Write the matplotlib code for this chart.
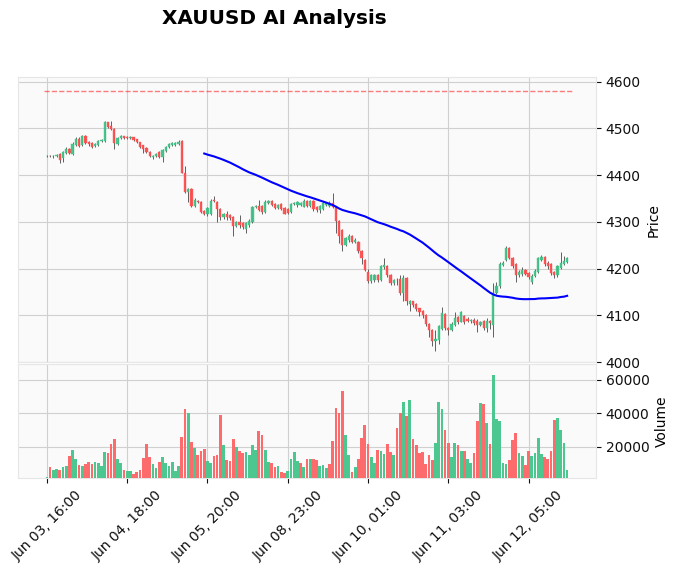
import pandas as pd
import matplotlib
matplotlib.use('Agg')
import matplotlib.pyplot as plt

title = 'XAUUSD AI Analysis'
target_price = 4580
mav_window = 50
tick_step = 25
tick_labels = ['Jun 03, 16:00', 'Jun 04, 18:00', 'Jun 05, 20:00', 'Jun 08, 23:00',
               'Jun 10, 01:00', 'Jun 11, 03:00', 'Jun 12, 05:00']

opens = [4441, 4442, 4440, 4440, 4446, 4437, 4448, 4457, 4446, 4464, 4478, 4464, 4483, 4470, 4468, 4462,
         4464, 4473, 4474, 4513, 4506, 4499, 4466, 4479, 4483, 4482, 4479, 4481, 4477, 4471, 4464, 4458,
         4450, 4439, 4441, 4449, 4439, 4452, 4461, 4464, 4464, 4467, 4473, 4405, 4365, 4370, 4334, 4345,
         4342, 4324, 4317, 4318, 4347, 4343, 4327, 4310, 4318, 4315, 4310, 4292, 4300, 4298, 4285, 4293,
         4299, 4331, 4334, 4334, 4322, 4341, 4344, 4339, 4330, 4338, 4329, 4327, 4322, 4338, 4337, 4337,
         4333, 4345, 4334, 4345, 4332, 4326, 4327, 4336, 4334, 4340, 4333, 4303, 4283, 4251, 4261, 4270,
         4257, 4257, 4237, 4219, 4193, 4173, 4175, 4186, 4175, 4204, 4206, 4186, 4169, 4176, 4178, 4148,
         4180, 4125, 4130, 4125, 4115, 4110, 4101, 4082, 4069, 4045, 4048, 4072, 4104, 4073, 4070, 4080,
         4097, 4087, 4098, 4093, 4088, 4091, 4089, 4080, 4088, 4073, 4089, 4080, 4148, 4162, 4208, 4219,
         4245, 4223, 4210, 4186, 4189, 4198, 4190, 4171, 4185, 4194, 4219, 4224, 4213, 4210, 4194, 4186,
         4202, 4210, 4215]
highs = [4444, 4443, 4444, 4446, 4447, 4451, 4460, 4459, 4471, 4481, 4481, 4486, 4485, 4473, 4470, 4468,
         4476, 4477, 4515, 4514, 4516, 4501, 4481, 4485, 4484, 4484, 4483, 4482, 4478, 4472, 4465, 4460,
         4452, 4443, 4448, 4451, 4456, 4463, 4468, 4470, 4472, 4476, 4475, 4420, 4372, 4372, 4352, 4348,
         4344, 4326, 4331, 4350, 4355, 4345, 4330, 4320, 4323, 4317, 4312, 4302, 4314, 4300, 4299, 4306,
         4334, 4337, 4348, 4336, 4348, 4348, 4347, 4341, 4338, 4341, 4331, 4329, 4340, 4343, 4345, 4343,
         4350, 4347, 4348, 4347, 4334, 4336, 4343, 4343, 4345, 4362, 4335, 4305, 4285, 4267, 4274, 4272,
         4265, 4259, 4239, 4221, 4199, 4188, 4188, 4189, 4208, 4222, 4208, 4188, 4178, 4180, 4186, 4187,
         4182, 4133, 4132, 4127, 4117, 4112, 4103, 4084, 4071, 4068, 4080, 4118, 4106, 4075, 4086, 4107,
         4099, 4110, 4100, 4096, 4093, 4094, 4092, 4088, 4090, 4094, 4091, 4170, 4171, 4214, 4216, 4248,
         4247, 4226, 4212, 4197, 4203, 4200, 4192, 4188, 4199, 4225, 4230, 4227, 4216, 4213, 4196, 4208,
         4235, 4228, 4226]
lows = [4439, 4438, 4437, 4438, 4426, 4428, 4445, 4446, 4444, 4462, 4461, 4462, 4467, 4463, 4459, 4460,
        4462, 4471, 4472, 4500, 4497, 4457, 4464, 4477, 4478, 4477, 4477, 4474, 4468, 4459, 4448, 4447,
        4438, 4435, 4439, 4436, 4429, 4450, 4459, 4462, 4462, 4465, 4404, 4362, 4343, 4331, 4332, 4340,
        4320, 4314, 4313, 4315, 4342, 4300, 4305, 4307, 4304, 4305, 4270, 4290, 4288, 4285, 4276, 4290,
        4297, 4329, 4323, 4318, 4320, 4339, 4335, 4328, 4328, 4325, 4316, 4317, 4320, 4336, 4331, 4335,
        4331, 4332, 4332, 4324, 4322, 4320, 4325, 4334, 4332, 4330, 4277, 4255, 4237, 4248, 4258, 4255,
        4254, 4234, 4211, 4195, 4170, 4170, 4172, 4172, 4173, 4200, 4183, 4166, 4166, 4166, 4144, 4130,
        4123, 4110, 4118, 4110, 4098, 4095, 4078, 4055, 4035, 4024, 4040, 4070, 4070, 4058, 4066, 4078,
        4082, 4085, 4082, 4086, 4084, 4080, 4065, 4077, 4070, 4064, 4071, 4055, 4145, 4158, 4205, 4216,
        4220, 4202, 4172, 4182, 4185, 4186, 4178, 4168, 4183, 4190, 4216, 4206, 4200, 4186, 4180, 4183,
        4199, 4207, 4213]
closes = [4442, 4441, 4442, 4444, 4433, 4449, 4457, 4448, 4466, 4478, 4463, 4484, 4469, 4466, 4461, 4466,
          4474, 4475, 4514, 4503, 4499, 4468, 4479, 4483, 4480, 4480, 4481, 4476, 4470, 4461, 4455, 4450,
          4441, 4441, 4446, 4439, 4454, 4461, 4466, 4468, 4469, 4471, 4405, 4365, 4370, 4334, 4347, 4342,
          4322, 4317, 4329, 4345, 4344, 4327, 4310, 4318, 4311, 4308, 4292, 4300, 4293, 4290, 4297, 4303,
          4332, 4334, 4326, 4322, 4343, 4344, 4337, 4330, 4336, 4327, 4318, 4320, 4338, 4341, 4342, 4341,
          4345, 4334, 4345, 4327, 4325, 4334, 4341, 4341, 4340, 4333, 4302, 4270, 4251, 4265, 4270, 4258,
          4262, 4237, 4223, 4198, 4173, 4186, 4186, 4175, 4206, 4207, 4186, 4169, 4176, 4175, 4148, 4180,
          4130, 4130, 4122, 4113, 4108, 4100, 4082, 4069, 4045, 4050, 4077, 4105, 4073, 4070, 4082, 4094,
          4087, 4108, 4085, 4088, 4091, 4083, 4080, 4085, 4073, 4089, 4083, 4148, 4163, 4211, 4213, 4245,
          4223, 4205, 4186, 4193, 4198, 4189, 4182, 4185, 4196, 4222, 4226, 4210, 4205, 4190, 4186, 4205,
          4212, 4217, 4222]
volumes = [2300, 7900, 6300, 6900, 6300, 8100, 8700, 14600, 18200, 12800, 9300, 8700, 9900, 11100, 9900, 11100,
           10700, 8700, 17000, 16400, 21800, 24600, 12800, 10300, 6300, 5800, 5700, 3900, 4900, 6300, 13300, 21500,
           13800, 9900, 7300, 11100, 13800, 10700, 8700, 11100, 5700, 8700, 25800, 42700, 40100, 22800, 19200, 15000,
           17400, 18600, 11700, 10300, 14600, 15000, 39100, 21200, 12250, 11850, 24800, 19800, 17600, 16200, 17000, 15200,
           21200, 18200, 29600, 27200, 18200, 11100, 10300, 8300, 8700, 5300, 4700, 5700, 12800, 17000, 11700, 10700,
           8300, 12800, 12800, 12800, 12250, 8700, 9100, 7700, 9900, 23600, 43500, 40100, 53400, 27200, 15000, 5300,
           7900, 12800, 25200, 33100, 21600, 14000, 10700, 18200, 17600, 15600, 22000, 16800, 15000, 31600, 40100, 46700,
           38500, 48100, 24800, 21200, 16600, 17000, 9900, 15000, 12000, 22400, 46700, 42700, 30200, 22600, 14000, 22600,
           21200, 17600, 17800, 12800, 10300, 16200, 35500, 46300, 45700, 34500, 21800, 63000, 36700, 35500, 10300, 9700,
           12000, 24200, 28400, 16200, 14600, 9300, 17600, 14600, 16200, 25200, 15800, 14000, 12800, 17600, 36100, 37100,
           30200, 22600, 6300]

df = pd.DataFrame({'Open': opens, 'High': highs, 'Low': lows, 'Close': closes, 'Volume': volumes})
n = len(df)
x = list(range(n))

up_c, down_c = '#40c288', '#fd4f50'
vup_c, vdown_c = '#4dc790', '#fd6b6c'
candle_cols = [up_c if c >= o else down_c for o, c in zip(df.Open, df.Close)]
# volume colour follows close vs previous close
prev = df.Close.shift(1).fillna(df.Open)
vol_cols = [vup_c if c >= p else vdown_c for c, p in zip(df.Close, prev)]

fig = plt.figure(figsize=(6.77, 5.74), dpi=100)
ax = fig.add_axes([0.0266, 0.3685, 0.8538, 0.4974])
axv = fig.add_axes([0.0266, 0.1664, 0.8538, 0.1995], sharex=ax)

for a in (ax, axv):
    a.set_facecolor('#fafafa')
    a.grid(True, color='#d0d0d0', linestyle='-', linewidth=0.8)
    a.set_axisbelow(True)
    for s in a.spines.values():
        s.set_color('#e6e6e6')
    a.yaxis.tick_right()
    a.yaxis.set_label_position('right')
    a.tick_params(colors='#101010', labelsize=10)

ax.vlines(x, df.Low, df.High, color='#606060', linewidth=0.7, zorder=2)
body = (df.Close - df.Open).abs().clip(lower=0.8)
ax.bar(x, body, bottom=df[['Open', 'Close']].min(axis=1), width=0.7,
       color=candle_cols, edgecolor=candle_cols, linewidth=0.3, alpha=0.95, zorder=3)

ma = df.Close.rolling(mav_window).mean()
ax.plot(x, ma, color='blue', linewidth=1.5, zorder=4)
ax.hlines(target_price, -1, n + 1, colors='red', linestyles='--', linewidth=1, alpha=0.5, zorder=4)

ax.set_ylim(3999.5, 4610)
ax.set_ylabel('Price', fontsize=10)
ax.tick_params(axis='x', length=0, labelbottom=False)

axv.bar(x, df.Volume, width=0.85, color=vol_cols, linewidth=0, zorder=3)
axv.set_ylim(1200, 69500)
axv.set_yticks([20000, 40000, 60000])
axv.set_ylabel('Volume', fontsize=10)

axv.set_xlim(-9, 171)
axv.set_xticks(list(range(0, n, tick_step))[:len(tick_labels)])
axv.set_xticklabels(tick_labels, rotation=45, ha='center')

fig.text(0.405, 1 - 19 / 574, title, ha='center', va='center', fontsize=14.4, fontweight='bold')

fig.savefig('out.png', dpi=100)
